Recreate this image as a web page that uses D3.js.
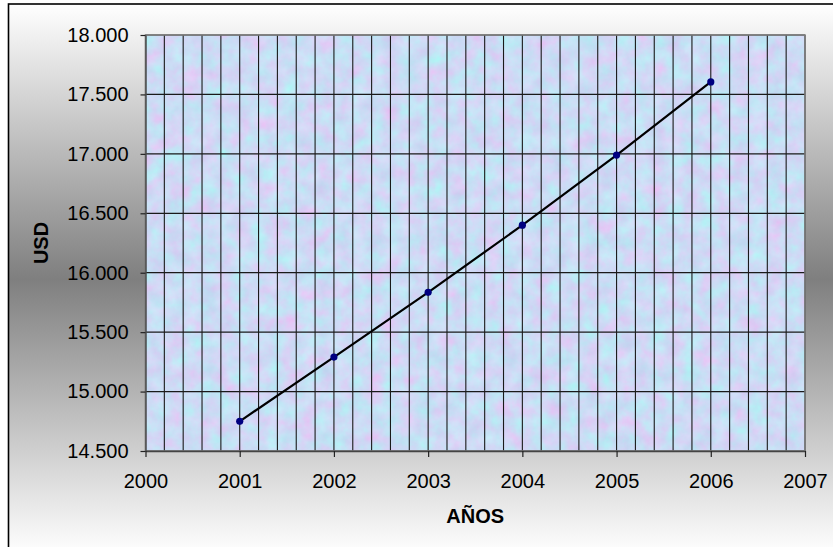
<!DOCTYPE html>
<html>
<head>
<meta charset="utf-8">
<script src="https://cdn.jsdelivr.net/npm/d3@7"></script>
<style>
  html, body { margin: 0; padding: 0; background: #fff; }
  svg { display: block; font-family: "Liberation Sans", Arial, sans-serif; }
</style>
</head>
<body>
<svg id="chart" width="833" height="547"></svg>
<script>
// ---- data ----
const years = [2001, 2002, 2003, 2004, 2005, 2006];
const usd = [14750, 15290, 15835, 16400, 16990, 17605];
const xTicks = [2000, 2001, 2002, 2003, 2004, 2005, 2006, 2007];
const yTicks = [14500, 15000, 15500, 16000, 16500, 17000, 17500, 18000];
const xTitle = "AÑOS";
const yTitle = "USD";

const svg = d3.select("#chart");
const W = 833, H = 547;
const plot = { left: 145.5, right: 805, top: 35, bottom: 451 };

const esLocale = d3.formatLocale({ decimal: ",", thousands: ".", grouping: [3], currency: ["", ""] });
const fmt = esLocale.format(",.0f");

const x = d3.scaleLinear().domain([2000, 2007]).range([plot.left, plot.right]);
const y = d3.scaleLinear().domain([14500, 18000]).range([plot.bottom, plot.top]);

const defs = svg.append("defs");
const grad = defs.append("linearGradient").attr("id", "bg").attr("x1", 0).attr("y1", 0).attr("x2", 0).attr("y2", 1);
grad.append("stop").attr("offset", "0%").attr("stop-color", "#ffffff");
grad.append("stop").attr("offset", "50%").attr("stop-color", "#7f7f7f");
grad.append("stop").attr("offset", "100%").attr("stop-color", "#ffffff");

const filt = defs.append("filter").attr("id", "tex")
  .attr("filterUnits", "userSpaceOnUse")
  .attr("color-interpolation-filters", "sRGB")
  .attr("x", plot.left).attr("y", plot.top)
  .attr("width", plot.right - plot.left).attr("height", plot.bottom - plot.top);
filt.append("feTurbulence").attr("type", "fractalNoise").attr("baseFrequency", 0.06)
  .attr("numOctaves", 4).attr("seed", 11).attr("result", "n");
filt.append("feColorMatrix").attr("type", "matrix").attr("in", "n")
  .attr("values", [
    "0.22 -0.12 0 0 0.75",
    "-0.10 0.20 0 0 0.81",
    "0.03 0.03 0 0 0.93",
    "0 0 0 0 1"
  ].join(" "));

// frame background
svg.append("rect").attr("x", 0).attr("y", 0).attr("width", W).attr("height", H).attr("fill", "#fff");
svg.append("rect").attr("x", 8.5).attr("y", 4).attr("width", 900).attr("height", 550)
  .attr("fill", "url(#bg)").attr("stroke", "#000").attr("stroke-width", 1.6);

// plot area with texture
svg.append("rect").attr("x", plot.left).attr("y", plot.top)
  .attr("width", plot.right - plot.left).attr("height", plot.bottom - plot.top)
  .attr("fill", "#cddff5").attr("filter", "url(#tex)");

// vertical grid (every 0.2 year)
const vGrid = d3.range(0, 36).map(i => 2000 + i * 0.2);
svg.append("g").selectAll("line").data(vGrid).join("line")
  .attr("x1", d => x(d)).attr("x2", d => x(d))
  .attr("y1", plot.top).attr("y2", plot.bottom)
  .attr("stroke", "#1a1a1a").attr("stroke-width", 1.1);

// horizontal grid
svg.append("g").selectAll("line").data(yTicks).join("line")
  .attr("x1", plot.left).attr("x2", plot.right)
  .attr("y1", d => y(d)).attr("y2", d => y(d))
  .attr("stroke", "#1a1a1a").attr("stroke-width", 1.2);

// plot border
svg.append("rect").attr("x", plot.left).attr("y", plot.top)
  .attr("width", plot.right - plot.left).attr("height", plot.bottom - plot.top)
  .attr("fill", "none").attr("stroke", "#808080").attr("stroke-width", 1.5);

// axes
const yAxis = svg.append("g").attr("transform", `translate(${plot.left},0)`)
  .call(d3.axisLeft(y).tickValues(yTicks).tickSize(5).tickSizeOuter(0).tickFormat(fmt));
yAxis.select(".domain").attr("stroke", "#444").attr("stroke-width", 1.3);
yAxis.selectAll(".tick line").attr("stroke", "#222").attr("stroke-width", 1.2);
yAxis.selectAll(".tick text").attr("x", -17).attr("font-size", 20)
  .attr("font-family", "Liberation Sans, Arial, sans-serif").attr("fill", "#000");

const xAxis = svg.append("g").attr("transform", `translate(0,${plot.bottom})`)
  .call(d3.axisBottom(x).tickValues(xTicks).tickSize(6).tickSizeOuter(0).tickFormat(d3.format("d")));
xAxis.select(".domain").attr("stroke", "#444").attr("stroke-width", 1.3);
xAxis.selectAll(".tick line").attr("stroke", "#222").attr("stroke-width", 1.2);
xAxis.selectAll(".tick text").attr("y", 23).attr("font-size", 20)
  .attr("font-family", "Liberation Sans, Arial, sans-serif").attr("fill", "#000");

// line + markers
const pts = years.map((yr, i) => ({ yr, v: usd[i] }));
svg.append("path").datum(pts)
  .attr("d", d3.line().x(d => x(d.yr)).y(d => y(d.v)))
  .attr("fill", "none").attr("stroke", "#000").attr("stroke-width", 2.2);
svg.append("g").selectAll("circle").data(pts).join("circle")
  .attr("cx", d => x(d.yr)).attr("cy", d => y(d.v)).attr("r", 3.6)
  .attr("fill", "#000080");

// titles
svg.append("text").attr("x", (plot.left + plot.right) / 2).attr("y", 523)
  .attr("text-anchor", "middle").attr("font-size", 20).attr("font-weight", "bold").text(xTitle);
svg.append("text").attr("transform", `translate(48,${(plot.top + plot.bottom) / 2}) rotate(-90)`)
  .attr("text-anchor", "middle").attr("font-size", 20).attr("font-weight", "bold").text(yTitle);
</script>
</body>
</html>
